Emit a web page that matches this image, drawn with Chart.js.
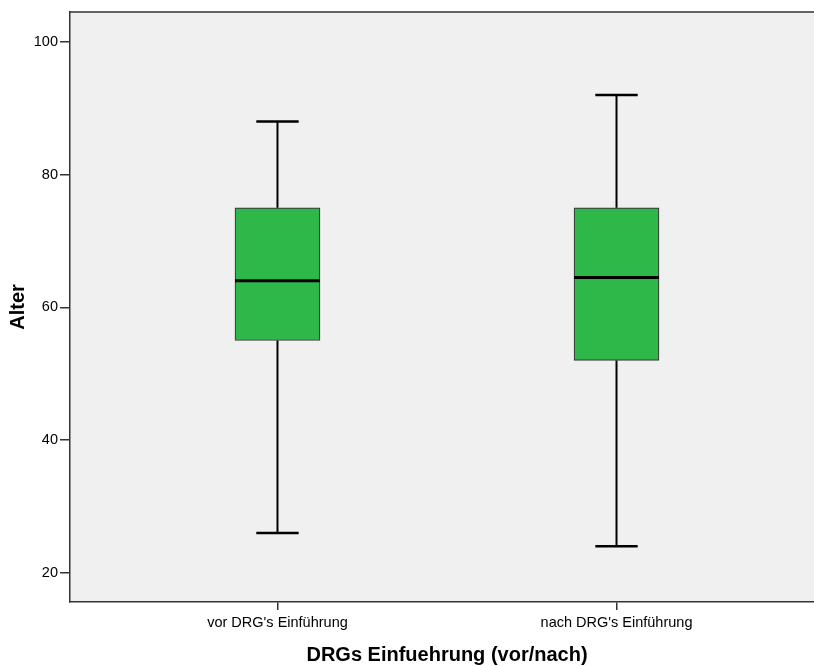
<!DOCTYPE html>
<html>
<head>
<meta charset="utf-8">
<script src="https://cdn.jsdelivr.net/npm/chart.js@4"></script>
<style>
  html, body { margin: 0; padding: 0; background: #ffffff; overflow: hidden; }
  #wrap { width: 814px; height: 666px; overflow: hidden; position: relative; }
  canvas { display: block; }
</style>
</head>
<body>
<div id="wrap"><canvas id="c" width="830" height="666" style="width:830px;height:666px"></canvas></div>
<script>
// ---- data ----
const categories = ["vor DRG's Einführung", "nach DRG's Einführung"];
const whiskerMin = [26, 24];
const q1Values = [55, 52];
const medianValues = [64, 64.5];
const q3Values = [75, 75];
const whiskerMax = [88, 92];
const yTickValues = [20, 40, 60, 80, 100];

const FONT = "'Liberation Sans', Arial, sans-serif";

const boxPlugin = {
  id: 'boxPlugin',
  beforeDraw(chart) {
    const { ctx, chartArea: a } = chart;
    ctx.save();
    ctx.fillStyle = '#F0F0F0';
    ctx.fillRect(a.left, a.top, a.right - a.left, a.bottom - a.top);
    ctx.strokeStyle = '#333333';
    ctx.lineWidth = 1.5;
    ctx.beginPath();
    ctx.moveTo(a.left, a.top);
    ctx.lineTo(a.right, a.top);
    ctx.lineTo(a.right, a.bottom);
    ctx.stroke();
    ctx.restore();
  },
  afterDatasetsDraw(chart) {
    const { ctx } = chart;
    const xs = chart.scales.x, ys = chart.scales.y;
    ctx.save();
    ctx.strokeStyle = '#000000';
    categories.forEach((c, i) => {
      const x = xs.getPixelForValue(i + 1);
      const capHalf = xs.getPixelForValue(i + 1 + 0.0625) - x;
      const halfBox = xs.getPixelForValue(i + 1 + 0.125) - x;
      // whiskers
      ctx.lineWidth = 2;
      ctx.beginPath();
      ctx.moveTo(x, ys.getPixelForValue(q3Values[i]));
      ctx.lineTo(x, ys.getPixelForValue(whiskerMax[i]));
      ctx.moveTo(x, ys.getPixelForValue(q1Values[i]));
      ctx.lineTo(x, ys.getPixelForValue(whiskerMin[i]));
      ctx.stroke();
      // caps
      ctx.lineWidth = 2.5;
      ctx.beginPath();
      ctx.moveTo(x - capHalf, ys.getPixelForValue(whiskerMax[i]));
      ctx.lineTo(x + capHalf, ys.getPixelForValue(whiskerMax[i]));
      ctx.moveTo(x - capHalf, ys.getPixelForValue(whiskerMin[i]));
      ctx.lineTo(x + capHalf, ys.getPixelForValue(whiskerMin[i]));
      ctx.stroke();
      // median
      ctx.lineWidth = 3;
      ctx.beginPath();
      ctx.moveTo(x - halfBox, ys.getPixelForValue(medianValues[i]));
      ctx.lineTo(x + halfBox, ys.getPixelForValue(medianValues[i]));
      ctx.stroke();
    });
    ctx.restore();
  }
};

new Chart(document.getElementById('c'), {
  type: 'bar',
  data: {
    datasets: [{
      data: categories.map((c, i) => ({ x: i + 1, y: [q1Values[i], q3Values[i]] })),
      backgroundColor: '#2EB84A',
      borderColor: '#3a3a3a',
      borderWidth: 1.2,
      borderSkipped: false,
      barThickness: 85
    }]
  },
  options: {
    responsive: false,
    devicePixelRatio: 1,
    animation: false,
    layout: { padding: { top: 12, right: 6, left: 0, bottom: 0 } },
    plugins: { legend: { display: false }, tooltip: { enabled: false } },
    scales: {
      x: {
        type: 'linear',
        offset: false,
        min: 0.388,
        max: 2.612,
        afterBuildTicks(scale) { scale.ticks = categories.map((c, i) => ({ value: i + 1 })); },
        afterFit(scale) { scale.height = 64; },
        ticks: {
          callback: (v) => categories[v - 1],
          color: '#000000',
          font: { family: FONT, size: 14.5 },
          padding: 4,
          maxRotation: 0,
          autoSkip: false
        },
        grid: { display: true, offset: false, drawOnChartArea: false, drawTicks: true, tickLength: 8, color: '#333333', lineWidth: 1.5 },
        border: { display: true, color: '#333333', width: 1.5 },
        title: {
          display: true,
          text: 'DRGs Einfuehrung (vor/nach)',
          color: '#000000',
          font: { family: FONT, size: 20, weight: 'bold', lineHeight: 1.1 },
          padding: { top: 0, bottom: 0 }
        }
      },
      y: {
        type: 'linear',
        min: 15.58,
        max: 104.52,
        afterBuildTicks(scale) { scale.ticks = yTickValues.map(v => ({ value: v })); },
        afterFit(scale) { scale.width = 70; },
        ticks: {
          color: '#000000',
          font: { family: FONT, size: 14.5 },
          padding: 2
        },
        grid: { display: true, drawOnChartArea: false, drawTicks: true, tickLength: 10, color: '#333333', lineWidth: 1.5 },
        border: { display: true, color: '#333333', width: 1.5 },
        title: {
          display: true,
          text: 'Alter',
          color: '#000000',
          font: { family: FONT, size: 20, weight: 'bold', lineHeight: 1.2 },
          padding: { top: 6, bottom: 0 }
        }
      }
    }
  },
  plugins: [boxPlugin]
});
</script>
</body>
</html>
